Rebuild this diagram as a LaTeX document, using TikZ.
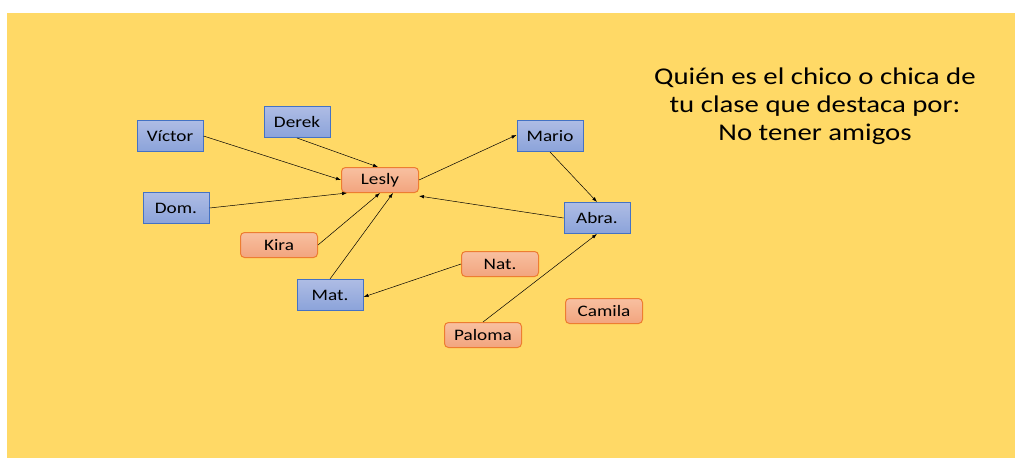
\documentclass[tikz,border=0pt]{standalone}
\usepackage{fontspec}
\setmainfont{Carlito}[FakeStretch=1.2]
\usetikzlibrary{arrows.meta}
\definecolor{bg}{HTML}{FFD966}
\definecolor{bluetop}{HTML}{AEBCE4}
\definecolor{bluebot}{HTML}{8BA3DA}
\definecolor{blueline}{HTML}{4472C4}
\definecolor{ortop}{HTML}{F8C0A0}
\definecolor{orbot}{HTML}{F2A47E}
\definecolor{orline}{HTML}{ED7D31}
\begin{document}
\begin{tikzpicture}[x=1pt,y=-1pt,
  bluebox/.style={draw=blueline, line width=1pt, top color=bluetop, bottom color=bluebot,
    minimum width=66pt, minimum height=31pt, inner sep=0pt, font=\fontsize{16}{19}\selectfont},
  orbox/.style={draw=orline, line width=1pt, top color=ortop, bottom color=orbot, rounded corners=4pt,
    minimum width=77pt, minimum height=25pt, inner sep=0pt, font=\fontsize{16}{19}\selectfont},
  link/.style={draw=black, line width=0.5pt, -{Latex[length=5pt,width=3.5pt]}}]
\useasboundingbox (0,0) rectangle (1015,458);
\fill[white] (0,0) rectangle (1015,458);
\fill[bg] (7,13) rectangle (1015,458);
\node[bluebox] (victor) at (170,136) {Víctor};
\node[bluebox] (derek) at (297,122) {Derek};
\node[orbox] (lesly) at (380,180) {Lesly};
\node[bluebox] (dom) at (176,208) {Dom.};
\node[orbox] (kira) at (279,245) {Kira};
\node[bluebox] (mat) at (330,295) {Mat.};
\node[orbox] (nat) at (500,264) {Nat.};
\node[orbox] (paloma) at (483,335) {Paloma};
\node[orbox] (camila) at (604,311) {Camila};
\node[bluebox] (mario) at (550,136) {Mario};
\node[bluebox] (abra) at (597,218) {Abra.};
\node[align=center, font=\fontsize{24}{28}\selectfont, inner sep=0pt] (title) at (815,106)
  {Quién es el chico o chica de\\tu clase que destaca por:\\No tener amigos};
\draw[link] (victor.east) -- (lesly.west);
\draw[link] (derek.south) -- ([xshift=-2pt]lesly.north);
\draw[link] (dom.east) -- ([xshift=6pt]lesly.south west);
\draw[link] (kira.east) -- (lesly.south);
\draw[link] (mat.north) -- ([xshift=13pt]lesly.south);
\draw[link] (nat.west) -- ([yshift=-2pt]mat.east);
\draw[link] (paloma.north) -- (abra.south);
\draw[link] (lesly.east) -- ([yshift=1pt]mario.west);
\draw[link] (mario.south) -- (abra.north);
\draw[link] (abra.west) -- ([yshift=-3pt]lesly.south east);
\end{tikzpicture}
\end{document}
